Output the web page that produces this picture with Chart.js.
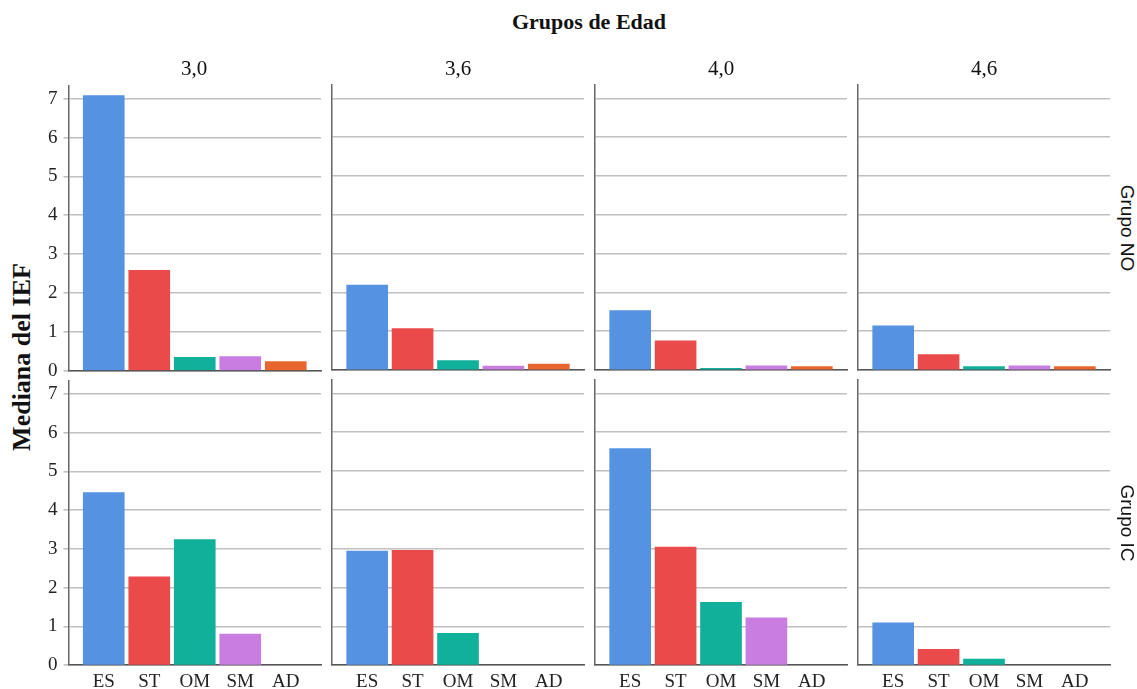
<!DOCTYPE html>
<html>
<head>
<meta charset="utf-8">
<script src="https://cdn.jsdelivr.net/npm/chart.js@4.4.1/dist/chart.umd.min.js"></script>
<style>
  html, body { margin: 0; padding: 0; background: #fff; }
  #fig { position: relative; width: 1137px; height: 689px; overflow: hidden; background: #fff;
         font-family: "Liberation Serif", "Times New Roman", serif; color: #111; }
  .pane { position: absolute; }
  .pane canvas { display: block; }
  .lbl { position: absolute; white-space: nowrap; line-height: 1; }
  .serif { font-family: "Liberation Serif", "Times New Roman", serif; }
  .sans { font-family: "Liberation Sans", Arial, sans-serif; }
</style>
</head>
<body>
<div id="fig"></div>
<script>
// Categories, facet labels and tick values
const categories = ['ES', 'ST', 'OM', 'SM', 'AD'];
const edades = ['3,0', '3,6', '4,0', '4,6'];
const grupos = ['Grupo NO', 'Grupo IC'];
const ejeY = [0, 1, 2, 3, 4, 5, 6, 7];

// Mediana del IEF, Grupo NO, per age group
const noEdad30 = [7.08, 2.58, 0.34, 0.36, 0.23];
const noEdad36 = [2.19, 1.07, 0.24, 0.10, 0.15];
const noEdad40 = [1.53, 0.75, 0.04, 0.11, 0.09];
const noEdad46 = [1.14, 0.40, 0.085, 0.11, 0.085];

// Mediana del IEF, Grupo IC, per age group
const icEdad30 = [4.45, 2.28, 3.24, 0.80, 0];
const icEdad36 = [2.94, 2.96, 0.82, 0, 0];
const icEdad40 = [5.58, 3.04, 1.62, 1.22, 0];
const icEdad46 = [1.09, 0.41, 0.16, 0, 0];

const colores = ['#5592E1', '#EA4A4A', '#10B09A', '#C97DE0', '#E8662E'];

const filas = [
  [noEdad30, noEdad36, noEdad40, noEdad46],
  [icEdad30, icEdad36, icEdad40, icEdad46]
];

// Panel geometry (plot areas)
const panelLeft = [68, 332, 595, 858];
const panelWidth = 252;
const rowTop = [85, 380];
const panelHeight = 285;
const yMax = 7.345;

const fig = document.getElementById('fig');
const serif = '"Liberation Serif", "Times New Roman", serif';

function addLabel(text, cls, css) {
  const d = document.createElement('div');
  d.className = 'lbl ' + cls;
  d.textContent = text;
  Object.assign(d.style, css);
  fig.appendChild(d);
  return d;
}

function panelConfig(values, showY, showX) {
  return {
    type: 'bar',
    data: {
      datasets: [{
        // a zero median leaves its slot empty
        data: values.map((v, i) => ({ x: i, y: v === 0 ? null : v })),
        backgroundColor: colores,
        borderWidth: 0,
        barThickness: 41
      }]
    },
    options: {
      responsive: false,
      maintainAspectRatio: false,
      animation: false,
      devicePixelRatio: 1,
      layout: { padding: { left: showY ? 2 : 4, right: 4, top: 2, bottom: 2 } },
      plugins: { legend: { display: false }, tooltip: { enabled: false } },
      scales: {
        x: {
          type: 'linear',
          offset: false,
          bounds: 'data',
          min: -0.775,
          max: 4.775,
          afterBuildTicks: s => { s.ticks = categories.map((c, i) => ({ value: i })); },
          ticks: {
            display: showX,
            autoSkip: false,
            maxRotation: 0,
            padding: 5,
            color: '#222',
            font: { family: serif, size: 19 },
            callback: v => categories[v] ?? ''
          },
          grid: { display: false, drawTicks: false, offset: false },
          border: { display: true, color: '#555', width: 1.5 }
        },
        y: {
          min: 0,
          max: yMax,
          afterBuildTicks: s => { s.ticks = ejeY.map(v => ({ value: v })); },
          ticks: {
            display: showY,
            padding: 6,
            color: '#222',
            font: { family: serif, size: 19 }
          },
          grid: { color: '#c0c0c0', lineWidth: 1.6, drawTicks: showY, tickLength: 5 },
          border: { display: true, color: '#666', width: 1.5 }
        }
      }
    }
  };
}

function makeCanvas(host, w, h) {
  host.innerHTML = '';
  const c = document.createElement('canvas');
  c.width = w; c.height = h;
  c.style.width = w + 'px'; c.style.height = h + 'px';
  host.appendChild(c);
  return c;
}

// Build a chart, then resize/reposition its canvas so the plot area lands on the target box
function placePanel(row, col) {
  const values = filas[row][col];
  const showY = col === 0, showX = row === 1;
  const host = document.createElement('div');
  host.className = 'pane';
  fig.appendChild(host);
  let w = panelWidth + (showY ? 70 : 8);
  let h = panelHeight + (showX ? 40 : 6);
  let chart = new Chart(makeCanvas(host, w, h), panelConfig(values, showY, showX));
  let ca = chart.chartArea;
  for (let k = 0; k < 2; k++) {
    const dw = panelWidth - (ca.right - ca.left);
    const dh = panelHeight - (ca.bottom - ca.top);
    if (Math.abs(dw) < 0.5 && Math.abs(dh) < 0.5) break;
    chart.destroy();
    w = Math.round(w + dw); h = Math.round(h + dh);
    chart = new Chart(makeCanvas(host, w, h), panelConfig(values, showY, showX));
    ca = chart.chartArea;
  }
  host.style.left = (panelLeft[col] - ca.left) + 'px';
  host.style.top = (rowTop[row] - ca.top) + 'px';
}

for (let r = 0; r < 2; r++) {
  for (let c = 0; c < 4; c++) placePanel(r, c);
}

// Figure texts
addLabel('Grupos de Edad', 'serif', {
  left: '589px', top: '11px', transform: 'translateX(-50%)',
  fontSize: '22px', fontWeight: 'bold', color: '#111'
});
edades.forEach((t, i) => {
  addLabel(t, 'serif', {
    left: (panelLeft[i] + panelWidth / 2) + 'px', top: '58px', transform: 'translateX(-50%)',
    fontSize: '21px', color: '#111'
  });
});
addLabel('Mediana del IEF', 'serif', {
  left: '22px', top: '357px', transform: 'translate(-50%, -50%) rotate(-90deg)',
  fontSize: '26px', fontWeight: 'bold', color: '#111'
});
grupos.forEach((t, i) => {
  addLabel(t, 'sans', {
    left: '1127px', top: (rowTop[i] + panelHeight / 2) + 'px',
    transform: 'translate(-50%, -50%) rotate(90deg)',
    fontSize: '19px', color: '#111'
  });
});
</script>
</body>
</html>
